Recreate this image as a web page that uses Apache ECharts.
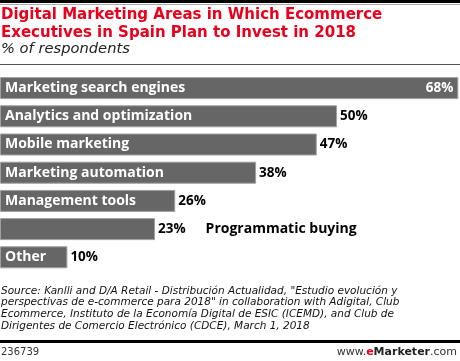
<!DOCTYPE html>
<html>
<head>
<meta charset="utf-8">
<script src="https://cdn.jsdelivr.net/npm/echarts@6/dist/echarts.min.js"></script>
<style>html,body{margin:0;padding:0;background:#fff}#c{width:460px;height:361px}</style>
</head>
<body>
<div id="c"></div>
<script>
var categories = ['Marketing search engines','Analytics and optimization','Mobile marketing','Marketing automation','Management tools','Programmatic buying','Other'];
var values = [68, 50, 47, 38, 26, 23, 10];
var insideValue = [true, false, false, false, false, false, false];
var nameOutside = [false, false, false, false, false, true, false];
var titleLines = ['Digital Marketing Areas in Which Ecommerce', 'Executives in Spain Plan to Invest in 2018'];
var subtitle = '% of respondents';
var sourceLines = [
  'Source: Kanlli and D/A Retail - Distribución Actualidad, "Estudio evolución y',
  'perspectivas de e-commerce para 2018" in collaboration with Adigital, Club',
  'Ecommerce, Instituto de la Economía Digital de ESIC (ICEMD), and Club de',
  'Dirigentes de Comercio Electrónico (CDCE), March 1, 2018'
];
var chartId = '236739';

var LBL = '"Open Sans", Lato, sans-serif';
var chart = echarts.init(document.getElementById('c'), null, {renderer: 'canvas'});

var data = values.map(function (v, i) {
  var item = {value: v};
  if (insideValue[i]) {
    item.label = {position: 'insideRight', color: '#fff', offset: [-2, 0]};
  }
  return item;
});

chart.setOption({
  animation: false,
  grid: {left: 0, right: 0, top: 74, height: 197.4, containLabel: false},
  xAxis: {type: 'value', min: 0, max: 68.25, show: false},
  yAxis: {
    type: 'category', data: categories, inverse: true, z: 10,
    axisLine: {show: false}, axisTick: {show: false}, splitLine: {show: false},
    axisLabel: {
      inside: true, margin: 5, color: '#fff', fontFamily: LBL, fontWeight: 'bold', fontSize: 14,
      formatter: function (v, i) { return nameOutside[i] ? '' : v; }
    }
  },
  series: [{
    type: 'bar', data: data, barWidth: 22,
    itemStyle: {color: '#666666', borderColor: '#a0a0a0', borderWidth: 1},
    label: {
      show: true, position: 'right', distance: 3, color: '#000',
      fontFamily: LBL, fontWeight: 'bold', fontSize: 13.5,
      formatter: function (p) {
        var s = '{v|' + p.value + '%}';
        if (nameOutside[p.dataIndex]) s += '{g|}{n|' + categories[p.dataIndex] + '}';
        return s;
      },
      rich: {
        v: {fontFamily: LBL, fontWeight: 'bold', fontSize: 13.5},
        g: {width: 20},
        n: {fontFamily: LBL, fontWeight: 'bold', fontSize: 14, color: '#000'}
      }
    }
  }],
  graphic: [
    {type: 'rect', shape: {x: 0, y: 0, width: 460, height: 3}, style: {fill: '#000'}},
    {type: 'rect', shape: {x: 0, y: 4, width: 460, height: 1}, style: {fill: '#aaa'}},
    {type: 'text', left: 1, top: 6, style: {text: titleLines.join('\n'), fill: '#e8001c', font: 'bold 15px "DejaVu Sans", sans-serif', lineHeight: 18}},
    {type: 'text', left: 1, top: 42, style: {text: subtitle, fill: '#222', font: 'italic 14.7px "DejaVu Sans", sans-serif'}},
    {type: 'rect', shape: {x: 0, y: 64, width: 460, height: 1}, style: {fill: '#555'}},
    {type: 'text', left: 1, top: 285, style: {text: sourceLines.join('\n'), fill: '#111', font: 'italic 10.5px "DejaVu Sans", sans-serif', lineHeight: 11.8}},
    {type: 'rect', shape: {x: 0, y: 340, width: 460, height: 3}, style: {fill: '#000'}},
    {type: 'text', left: 1, top: 347, style: {text: chartId, fill: '#333', font: '10px "DejaVu Sans", sans-serif'}},
    {type: 'text', right: 3, top: 347, style: {
      text: '{a|www.}{e|e}{m|Marketer}{a|.com}',
      rich: {
        a: {fill: '#333', font: '11px "DejaVu Sans", sans-serif'},
        e: {fill: '#e8001c', font: 'bold 11px "DejaVu Sans", sans-serif'},
        m: {fill: '#222', font: 'bold 11px "DejaVu Sans", sans-serif'}
      }
    }}
  ]
});
</script>
</body>
</html>
